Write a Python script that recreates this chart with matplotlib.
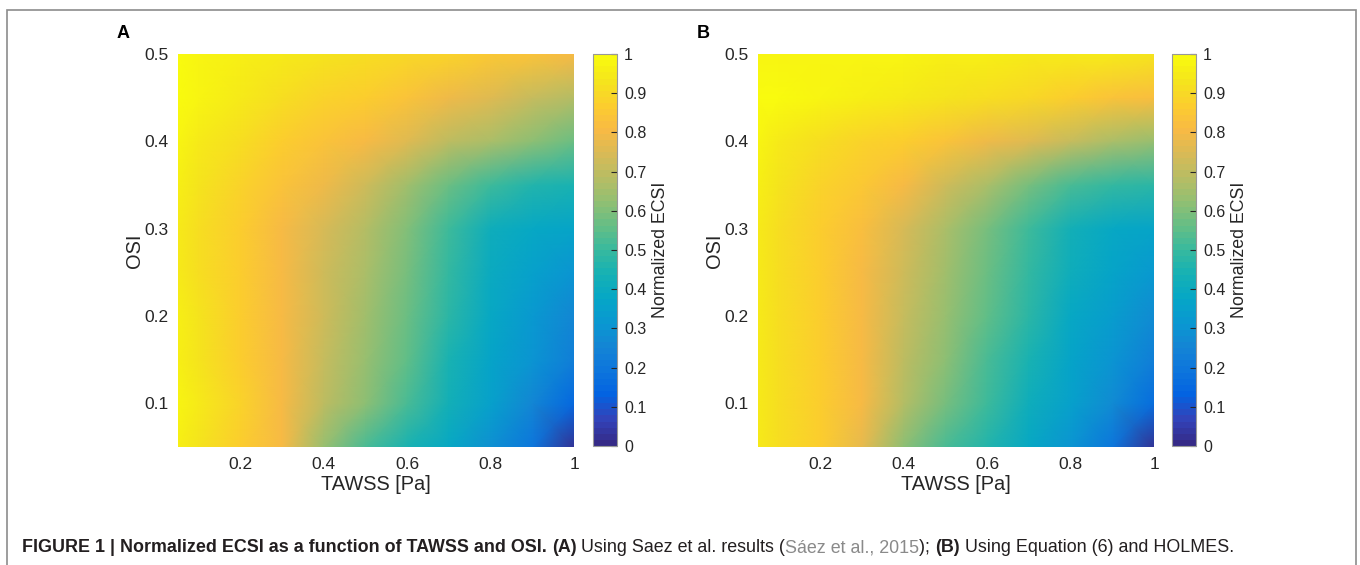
import numpy as np
import matplotlib
matplotlib.use("Agg")
import matplotlib.pyplot as plt
from matplotlib.colors import LinearSegmentedColormap
from matplotlib.patches import Rectangle

# --- data ---
tawss = [0.05, 0.1, 0.2, 0.3, 0.4, 0.5, 0.6, 0.7, 0.8, 0.9, 1.0]
osi = [0.05, 0.1, 0.15, 0.2, 0.25, 0.3, 0.35, 0.4, 0.45, 0.5]

# rows = OSI (bottom -> top), columns = TAWSS (left -> right)
ecsi_a = [
    [0.96, 0.93, 0.87, 0.80, 0.64, 0.52, 0.45, 0.38, 0.29, 0.19, 0.03],
    [0.97, 0.94, 0.88, 0.81, 0.70, 0.61, 0.52, 0.43, 0.35, 0.26, 0.15],
    [0.96, 0.93, 0.87, 0.81, 0.71, 0.63, 0.55, 0.45, 0.37, 0.30, 0.22],
    [0.96, 0.93, 0.87, 0.81, 0.72, 0.65, 0.57, 0.47, 0.39, 0.32, 0.26],
    [0.95, 0.92, 0.87, 0.81, 0.73, 0.66, 0.58, 0.49, 0.40, 0.35, 0.31],
    [0.95, 0.92, 0.87, 0.81, 0.74, 0.68, 0.60, 0.51, 0.42, 0.38, 0.36],
    [0.96, 0.93, 0.88, 0.84, 0.79, 0.72, 0.65, 0.57, 0.50, 0.46, 0.44],
    [0.97, 0.95, 0.91, 0.87, 0.84, 0.80, 0.75, 0.70, 0.66, 0.62, 0.57],
    [0.99, 0.97, 0.94, 0.92, 0.89, 0.87, 0.83, 0.79, 0.75, 0.71, 0.68],
    [0.99, 0.98, 0.96, 0.94, 0.93, 0.92, 0.90, 0.88, 0.85, 0.83, 0.80],
]

ecsi_b = [
    [0.95, 0.92, 0.86, 0.78, 0.61, 0.52, 0.46, 0.39, 0.31, 0.20, 0.03],
    [0.95, 0.92, 0.87, 0.80, 0.68, 0.58, 0.50, 0.42, 0.35, 0.27, 0.17],
    [0.95, 0.92, 0.87, 0.80, 0.70, 0.62, 0.53, 0.45, 0.37, 0.30, 0.23],
    [0.95, 0.92, 0.87, 0.81, 0.71, 0.64, 0.55, 0.47, 0.39, 0.33, 0.28],
    [0.95, 0.92, 0.87, 0.81, 0.72, 0.65, 0.57, 0.49, 0.41, 0.36, 0.32],
    [0.95, 0.92, 0.87, 0.82, 0.74, 0.67, 0.59, 0.51, 0.43, 0.38, 0.36],
    [0.96, 0.93, 0.88, 0.85, 0.80, 0.73, 0.66, 0.59, 0.53, 0.49, 0.47],
    [0.97, 0.95, 0.92, 0.89, 0.86, 0.83, 0.79, 0.75, 0.71, 0.67, 0.64],
    [1.00, 0.99, 0.98, 0.96, 0.94, 0.93, 0.91, 0.90, 0.87, 0.84, 0.82],
    [0.98, 0.98, 0.98, 0.97, 0.97, 0.96, 0.96, 0.95, 0.95, 0.94, 0.93],
]

x_ticks = [0.2, 0.4, 0.6, 0.8, 1.0]
x_ticklabels = ["0.2", "0.4", "0.6", "0.8", "1"]
y_ticks = [0.1, 0.2, 0.3, 0.4, 0.5]
cb_ticks = [0, 0.1, 0.2, 0.3, 0.4, 0.5, 0.6, 0.7, 0.8, 0.9, 1.0]
cb_ticklabels = ["0", "0.1", "0.2", "0.3", "0.4", "0.5", "0.6", "0.7", "0.8", "0.9", "1"]

# MATLAB parula, sampled
parula_pts = [
    (0.2081, 0.1663, 0.5292), (0.1959, 0.2645, 0.7279), (0.0117, 0.3875, 0.8820),
    (0.0498, 0.4586, 0.8641), (0.0793, 0.5200, 0.8312), (0.0343, 0.5966, 0.8199),
    (0.0228, 0.6535, 0.7768), (0.0843, 0.6928, 0.7062), (0.2178, 0.7250, 0.6193),
    (0.3953, 0.7459, 0.5244), (0.5709, 0.7485, 0.4494), (0.7184, 0.7411, 0.3905),
    (0.8507, 0.7299, 0.3360), (0.9739, 0.7314, 0.2666), (0.9880, 0.8066, 0.1794),
    (0.9589, 0.8949, 0.1132), (0.9763, 0.9831, 0.0538),
]
parula = LinearSegmentedColormap.from_list("parula", parula_pts, N=64)

plt.rcParams["font.family"] = ["Liberation Sans", "DejaVu Sans"]
txt_col = "#262626"

W, H = 1360, 565
fig = plt.figure(figsize=(W / 100, H / 100), dpi=100)

# outer frame
fig.patches.append(Rectangle((7 / W, -0.05), 1349 / W, 1.05 - 10 / H,
                             transform=fig.transFigure, fill=False,
                             edgecolor="#8c8c8c", linewidth=1.2))

panels = [
    ("A", ecsi_a, 178, 593, 123),
    ("B", ecsi_b, 758, 1172, 703),
]

for letter, vals, ax_left, cb_left, let_x in panels:
    ax = fig.add_axes([ax_left / W, 1 - 447 / H, 396 / W, 393 / H])
    mesh = ax.pcolormesh(tawss, osi, np.array(vals), cmap=parula,
                         vmin=0, vmax=1, shading="gouraud")
    ax.set_xlim(0.05, 1.0)
    ax.set_ylim(0.05, 0.5)
    ax.set_xticks(x_ticks)
    ax.set_xticklabels(x_ticklabels)
    ax.set_yticks(y_ticks)
    ax.tick_params(length=0, labelsize=12.5, colors=txt_col, pad=7)
    for s in ax.spines.values():
        s.set_visible(False)
    ax.set_xlabel("TAWSS [Pa]", fontsize=14.4, color=txt_col, labelpad=2)
    ax.set_ylabel("OSI", fontsize=14.4, color=txt_col, labelpad=0)

    cax = fig.add_axes([cb_left / W, 1 - 446 / H, 24 / W, 392 / H])
    cb = fig.colorbar(mesh, cax=cax, ticks=cb_ticks)
    cb.ax.set_yticklabels(cb_ticklabels)
    cb.ax.tick_params(direction="in", length=4, labelsize=11.5, colors=txt_col,
                      width=0.8, pad=5)
    cb.outline.set_edgecolor("#999999")
    cb.outline.set_linewidth(0.8)
    cb.set_label("Normalized ECSI", fontsize=12.8, color=txt_col, labelpad=4)

    fig.text(let_x / W, 1 - 34 / H, letter, fontsize=13, fontweight="bold",
             ha="center", va="center", color="black")

# caption in several styled pieces
caption = [
    ("FIGURE 1 | Normalized ECSI as a function of TAWSS and OSI. ", "bold", "#231f20"),
    ("(A)", "bold", "#231f20"),
    (" Using Saez et al. results (", "normal", "#231f20"),
    ("Sáez et al., 2015", "normal", "#8a8a8a"),
    ("); ", "normal", "#231f20"),
    ("(B)", "bold", "#231f20"),
    (" Using Equation (6) and HOLMES.", "normal", "#231f20"),
]
renderer = fig.canvas.get_renderer()
x = 22 / W
for piece, weight, col in caption:
    t = fig.text(x, 1 - 548 / H, piece, fontsize=12.9, fontweight=weight,
                 color=col, ha="left", va="center")
    bb = t.get_window_extent(renderer)
    x = bb.x1 / W

fig.savefig("out.png", dpi=100)
